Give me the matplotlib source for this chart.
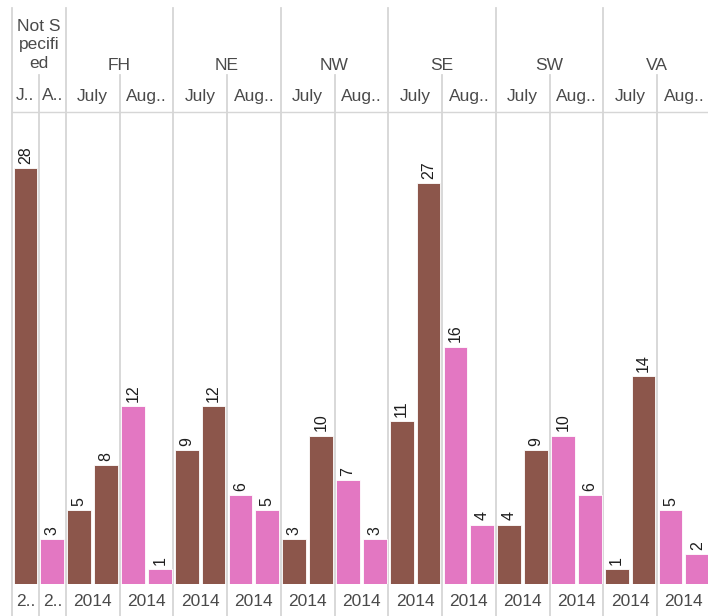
"""
Counts by region, month (July / August 2014) - two bars per month cell,
Tableau-style header panes drawn around a single matplotlib axes.
"""

import matplotlib
matplotlib.use("Agg")
import matplotlib.pyplot as plt
import matplotlib.transforms as mtransforms
from matplotlib.lines import Line2D


# ---------------------------------------------------------------------------
# Data
# ---------------------------------------------------------------------------

regions = ["FH", "NE", "NW", "SE", "SW", "VA"]
july_first = [5, 9, 3, 11, 4, 1]
july_second = [8, 12, 10, 27, 9, 14]
aug_first = [12, 6, 7, 16, 10, 5]
aug_second = [1, 5, 3, 4, 6, 2]

not_spec_label = "Not S\npecifi\ned"
not_spec_july = 28
not_spec_aug = 3

month_labels = ["July", "Aug.."]
short_month_labels = ["J..", "A.."]
year_label = "2014"
short_year_label = "2.."

BROWN = "#8c564b"
PINK = "#e377c2"
GRID = "#d6d6d6"
HEADER_TXT = "#4a4a4a"
FONT = "Liberation Sans"

W, H = 708, 616
SLOT_PX = 26.875          # width of one bar slot in pixels
LEFT_PX = 12
BASE_PX = 584             # bar baseline
HEAD_BOTTOM_PX = 112      # bottom of header rows
MONTH_TOP_PX = 75
GROUP_TOP_PX = 8
YMAX = 31.8


def fy(px):
    """pixel row (from top) -> figure fraction"""
    return 1 - px / H


fig = plt.figure(figsize=(W / 100, H / 100), dpi=100)
n_slots = 2 + 4 * len(regions)
ax = fig.add_axes([LEFT_PX / W, fy(BASE_PX), n_slots * SLOT_PX / W,
                   (BASE_PX - HEAD_BOTTOM_PX) / H])
ax.set_xlim(0, n_slots)
ax.set_ylim(0, YMAX)
ax.axis("off")

trans = mtransforms.blended_transform_factory(ax.transData, fig.transFigure)


def vline(x, top_px, bottom_px=H):
    fig.add_artist(Line2D([x, x], [fy(top_px), fy(bottom_px)], transform=trans,
                          color=GRID, lw=1.3, zorder=0, clip_on=False))


def header_text(x, y_px, s, **kw):
    fig.text(x, fy(y_px), s, transform=trans, ha="center", va="center",
             fontsize=12.5, color=HEADER_TXT, family=FONT, **kw)


# bars: (slot, value, colour)
bars = [(0, not_spec_july, BROWN), (1, not_spec_aug, PINK)]
for i in range(len(regions)):
    base = 2 + 4 * i
    bars += [(base, july_first[i], BROWN), (base + 1, july_second[i], BROWN),
             (base + 2, aug_first[i], PINK), (base + 3, aug_second[i], PINK)]

for slot, val, col in bars:
    ax.bar(slot + 0.5, val, width=0.88, color=col, edgecolor="white",
           linewidth=0.6, zorder=2)
    ax.annotate(str(val), (slot + 0.5, val), xytext=(0, 3),
                textcoords="offset points", rotation=90, ha="center",
                va="bottom", fontsize=11.5, color="#1e1e1e", family=FONT)

# grid lines -----------------------------------------------------------------
vline(0, GROUP_TOP_PX)
vline(1, MONTH_TOP_PX)
for i in range(len(regions)):
    base = 2 + 4 * i
    vline(base, GROUP_TOP_PX)
    vline(base + 2, MONTH_TOP_PX)
vline(n_slots, GROUP_TOP_PX)
fig.add_artist(Line2D([0, n_slots], [fy(HEAD_BOTTOM_PX)] * 2, transform=trans,
                      color=GRID, lw=1.0, clip_on=False))

# headers ----------------------------------------------------------------------
header_text(1, 45, not_spec_label, linespacing=1.3)
for j in range(2):
    header_text(j + 0.5, 96, short_month_labels[j])
    header_text(j + 0.5, 602, short_year_label)

for i, reg in enumerate(regions):
    base = 2 + 4 * i
    header_text(base + 2, 65, reg)
    for j in range(2):
        header_text(base + 2 * j + 1, 96, month_labels[j])
        header_text(base + 2 * j + 1, 602, year_label)

fig.savefig("out.png", dpi=100)
